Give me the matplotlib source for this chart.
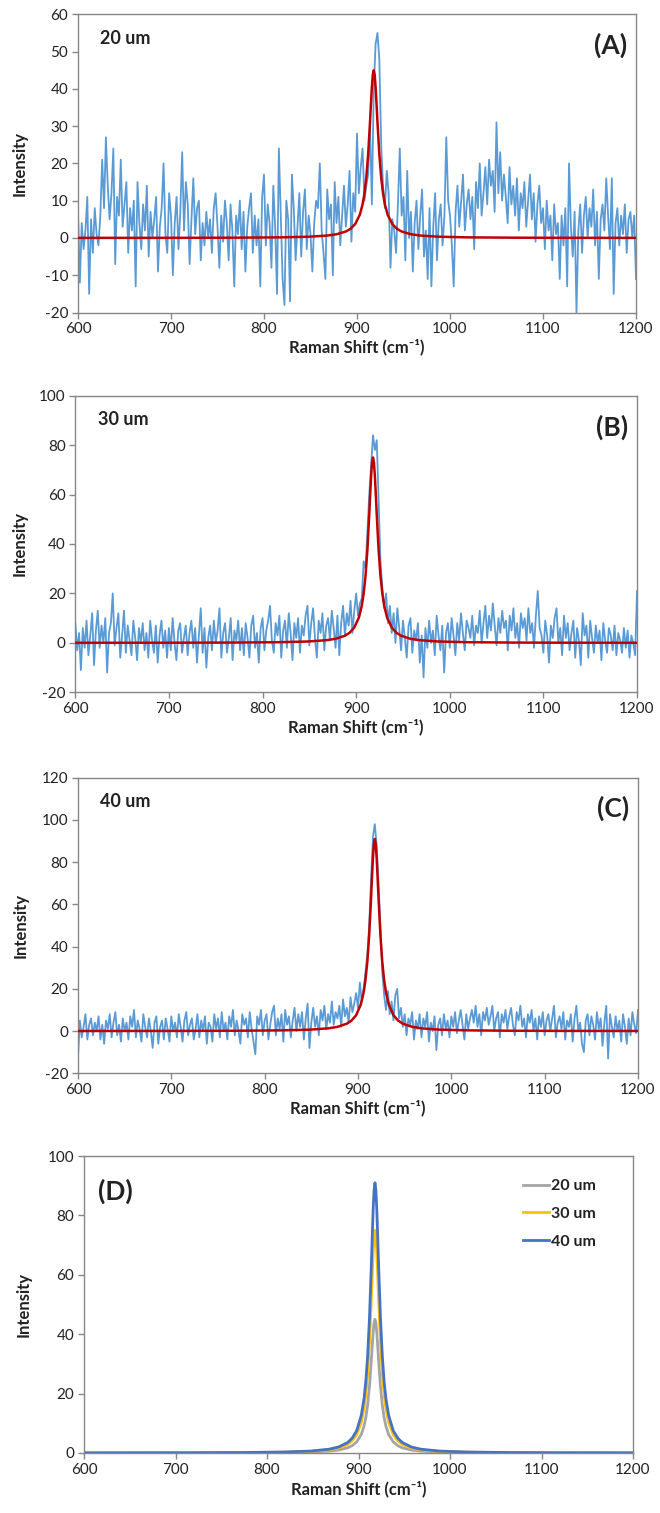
import matplotlib
matplotlib.use("Agg")
import matplotlib.pyplot as plt
import numpy as np

plt.rcParams['font.family'] = ['Lato', 'DejaVu Sans']
plt.rcParams['axes.unicode_minus'] = False

# ---------------- data ----------------
x_start, x_step = 600, 2
spec_20um = [7, -12, 4, -3, 2, 11, -15, 5, -4, 8,
             1, -2, 6, 21, 8, 27, 14, 5, 12, 24,
             -7, 11, 6, 21, 3, 9, 15, -4, 8, 2,
             10, -13, 15, 4, -3, 9, 2, 14, -5, 7,
             0, 5, 11, -9, 3, 8, 20, 1, -4, 12,
             6, -10, 4, 11, -3, 7, 23, 2, 15, 9,
             -7, 5, 16, 1, 8, 10, -6, 4, -2, 7,
             0, 5, -4, 8, 12, 3, -8, 6, -1, 10,
             4, -6, 9, 2, -13, 6, 1, 10, -3, 7,
             -9, 3, 8, 12, -4, 6, -2, 5, -13, 11,
             17, -2, 9, 4, -8, 14, 3, -15, 24, 6,
             -11, -18, 10, 5, -17, 17, 8, -6, 3, 12,
             -5, 7, 13, -3, 6, 1, -9, 4, 10, 8,
             20, 2, -4, -11, 13, 5, 9, -10, 15, 4,
             11, -2, 6, 14, 3, 9, 18, -1, 12, 7,
             28, 12, 19, 24, 10, 14, 17, 30, 9, 40,
             52, 55, 48, 25, 14, 8, 18, 12, -8, 5,
             2, -4, 9, 24, 6, 11, -6, 18, 0, 7,
             -9, 4, 10, -3, 6, 13, -5, 2, -11, 8,
             -13, 3, 12, -6, 5, 9, -2, 6, 27, 10,
             6, -2, -13, 7, 14, 3, 10, 17, 2, 9,
             13, 5, 11, -3, 15, 8, 20, 6, 12, 19,
             9, 21, 14, 18, 7, 31, 12, 23, 10, 17,
             11, 4, 19, 9, 14, 6, 16, 2, 12, 8,
             15, 3, 10, 17, 5, 12, -1, 9, 14, 4,
             8, -3, 10, 2, 6, -6, 9, 1, 4, -11,
             6, -2, 8, -13, 20, 3, -5, 7, -20, 2,
             9, -4, 6, 11, 0, 8, 3, 13, -2, 7,
             -11, 5, 9, 2, 16, 6, -3, 16, -15, 4,
             8, -2, 6, 1, 9, -4, 5, 7, 0, 6,
             -11]
spec_30um = [8, -3, 4, -11, 6, -2, 9, -5, 3, 12,
             -9, 5, 13, -2, 7, 0, 10, -12, 4, 8,
             20, -1, 6, 12, -6, 3, 13, -4, 7, 1,
             -5, 9, 2, -7, 6, 0, 8, -3, 4, -6,
             9, 1, -4, 7, -8, 3, 9, -2, 5, -6,
             6, -3, 10, 0, -7, 5, 8, -4, 2, 7,
             -5, 4, 9, -2, 6, -8, 3, 14, -4, 6,
             -10, 2, 7, -3, 9, 0, 5, 14, -6, 4,
             8, -4, 2, 10, -7, 5, 1, 9, -3, 6,
             -5, 8, 2, -6, 7, 11, -2, 4, -8, 6,
             10, -3, 5, 9, 15, 1, -4, 8, 3, 11,
             -6, 5, 9, -2, 12, 4, -7, 8, 2, 10,
             -4, 7, 3, 11, 15, -1, 8, 14, 2, -6,
             9, 4, 12, -3, 7, 10, 1, 13, 6, -2,
             11, -5, 8, 15, 3, 12, 7, 17, 4, 13,
             20, 11, 16, 18, 33, 30, 45, 60, 72, 84,
             78, 82, 58, 33, 22, 14, 20, 8, 15, 4,
             12, 0, 14, 6, -3, 9, 2, -6, 7, 10,
             -4, 5, 1, 8, -8, 3, -14, 6, -2, 9,
             0, 5, -5, 11, 3, -3, 7, -12, 4, 8,
             -2, 10, 3, -5, 8, 1, 12, 4, -3, 9,
             6, 2, 11, -1, 7, 4, 13, 0, 8, 15,
             2, 11, 5, 16, 7, -1, 10, 4, 13, 6,
             9, -3, 11, 5, 14, 2, 8, -2, 12, 6,
             10, 1, 14, 4, 8, -2, 11, 21, 6, 3,
             -4, 9, 3, -8, 7, 2, 10, 14, 0, 6,
             -5, 11, 2, 8, -3, 4, 9, -6, 6, 1,
             -9, 12, 3, 7, -6, 9, 2, -4, 7, 0,
             5, -7, 8, 1, -4, 6, 3, -3, 7, -5,
             4, 1, -4, 6, -2, 5, -6, 3, 0, -5,
             21]
spec_40um = [-12, 5, -3, 2, 8, -4, 3, 6, -2, 4,
             0, 7, -4, 3, -6, 5, 1, 8, -3, 4,
             9, -2, 3, -5, 6, 0, 4, -4, 7, 2,
             10, -3, 5, 1, -5, 8, 2, -3, 6, 0,
             -8, 4, 7, -6, 2, 5, -4, 6, 1, -5,
             7, 0, 4, -3, 8, 2, -5, 5, 9, -2,
             3, 6, -4, 1, 8, -3, 5, 0, 7, -6,
             4, 2, -5, 8, 1, 6, -3, 9, 0, 4,
             -4, 7, 2, 10, -2, 5, 0, -6, 8, 3,
             6, -3, 9, 1, -5, -11, 7, 3, 10, -2,
             5, 8, -4, 3, 9, 12, -2, 6, 1, 8,
             -5, 10, 3, 7, -3, 5, 11, 0, 8, 2,
             9, -4, 6, 13, -8, 4, 11, 2, 7, -2,
             10, 5, 12, 1, 8, 4, 14, 3, 9, 6,
             12, 2, 15, 7, 11, 4, 16, 9, 13, 18,
             11, 23, 14, 20, 28, 36, 50, 72, 92, 98,
             88, 70, 50, 28, 17, 10, 19, 8, 14, 5,
             17, 20, 6, 11, 2, 8, -2, 6, 3, 9,
             -4, 5, 1, 8, -3, 6, 2, 9, -5, 4,
             0, 7, -9, 3, 6, -2, 8, 1, 5, -3,
             7, 2, 9, -1, 5, 10, 3, -4, 8, 1,
             6, 10, 4, 12, 2, 8, -2, 9, 5, 11,
             3, 7, 12, 0, 6, 9, -3, 8, 4, 10,
             1, 7, 11, 3, -2, 9, 5, 12, 2, 6,
             -3, 8, 4, 10, 0, 6, -4, 7, 2, 9,
             -2, 5, 8, 0, 6, 12, -3, 4, 7, 1,
             9, -4, 5, 2, 8, -5, 6, 12, 0, 4,
             -6, -10, 5, 8, -2, 7, 3, -4, 9, 1,
             6, -7, 4, 12, -13, 8, 2, -3, 7, 0,
             5, -5, 8, 2, -6, 6, -2, 9, 3, -1,
             10]

fit_x = [600, 700, 768, 818, 848, 868, 878, 888, 893, 898, 903, 906, 908, 910, 912, 914,
         915, 916, 917, 918, 919, 920, 921, 922, 924, 926, 928, 930, 933, 938, 943, 948,
         958, 968, 988, 1018, 1068, 1118, 1200]
fit_20um = [0.016, 0.034, 0.072, 0.16, 0.33, 0.64, 0.99, 1.73, 2.45, 3.72, 6.2, 9.0, 11.9,
            16.2, 22.5, 31.1, 36.0, 40.5, 43.8, 45.0, 43.8, 40.5, 36.0, 31.1, 22.5, 16.2,
            11.9, 9.0, 6.2, 3.72, 2.45, 1.73, 0.99, 0.64, 0.33, 0.16, 0.072, 0.041, 0.02]
fit_30um = [0.027, 0.057, 0.12, 0.27, 0.55, 1.07, 1.65, 2.89, 4.09, 6.2, 10.3, 15.0, 19.9,
            27.0, 37.5, 51.9, 60.0, 67.5, 73.0, 75.0, 73.0, 67.5, 60.0, 51.9, 37.5, 27.0,
            19.9, 15.0, 10.3, 6.2, 4.09, 2.89, 1.65, 1.07, 0.55, 0.27, 0.12, 0.068, 0.034]
fit_40um = [0.033, 0.069, 0.15, 0.33, 0.66, 1.29, 2.0, 3.5, 4.96, 7.5, 12.6, 18.2, 24.1,
            32.8, 45.5, 63.0, 72.8, 81.9, 88.5, 91.0, 88.5, 81.9, 72.8, 63.0, 45.5, 32.8,
            24.1, 18.2, 12.6, 7.5, 4.96, 3.5, 2.0, 1.29, 0.66, 0.33, 0.15, 0.082, 0.041]

sample_labels = ["20 um", "30 um", "40 um"]
panel_tags = ["(A)", "(B)", "(C)", "(D)"]
x_ticks = [600, 700, 800, 900, 1000, 1100, 1200]

# ---------------- styling ----------------
W, H = 660, 1513
fig = plt.figure(figsize=(W / 100, H / 100), dpi=100)
fig.patch.set_facecolor("white")

noise_color = "#5B9BD5"
fit_color = "#C00000"
spine_color = "#878787"
text_color = "#222222"


def box(l, t, r, b):
    return [l / W, 1 - b / H, (r - l) / W, (b - t) / H]


def style(ax, yticks, ylim, xlab_pad=2):
    ax.set_xlim(600, 1200)
    ax.set_ylim(*ylim)
    ax.set_xticks(x_ticks)
    ax.set_yticks(yticks)
    for s in ax.spines.values():
        s.set_color(spine_color)
        s.set_linewidth(1.0)
    ax.tick_params(axis="both", direction="out", length=4, width=1.0,
                   color=spine_color, labelsize=11, labelcolor=text_color, pad=3)
    ax.set_xlabel("Raman Shift (cm\u207b\u00b9)", fontsize=12,
                  fontweight="bold", color=text_color, labelpad=xlab_pad)
    ax.set_ylabel("Intensity", fontsize=12, fontweight="bold", color=text_color)


boxes = [box(78, 14.3, 636, 312.5), box(75.3, 395.7, 637, 692.3),
         box(78, 777.7, 638, 1073.3), box(84, 1156, 633, 1453)]
specs = [spec_20um, spec_30um, spec_40um]
fits = [fit_20um, fit_30um, fit_40um]
ylims = [(-20, 60), (-20, 100), (-20, 120)]
yticks_list = [list(range(-20, 61, 10)), list(range(-20, 101, 20)), list(range(-20, 121, 20))]
ylab_x = [-0.09, -0.084, -0.089]

for i in range(3):
    ax = fig.add_axes(boxes[i])
    xs = np.arange(len(specs[i])) * x_step + x_start
    ax.plot(xs, specs[i], color=noise_color, lw=1.3, zorder=2)
    ax.plot(fit_x, fits[i], color=fit_color, lw=1.8, zorder=3)
    style(ax, yticks_list[i], ylims[i])
    ax.yaxis.set_label_coords(ylab_x[i], 0.5)
    ax.text(0.04, 0.92, sample_labels[i], transform=ax.transAxes, fontsize=13,
            fontweight="bold", color=text_color, ha="left", va="center")
    ax.text(0.984, 0.895, panel_tags[i], transform=ax.transAxes, fontsize=19,
            fontweight="bold", color=text_color, ha="right", va="center")

# Panel D
axd = fig.add_axes(boxes[3])
d_colors = ["#A5A5A5", "#FFC000", "#4472C4"]
for lab, f, c in zip(sample_labels, fits, d_colors):
    axd.plot(fit_x, f, color=c, lw=2.0, label=lab)
style(axd, list(range(0, 101, 20)), (0, 100), xlab_pad=3)
axd.yaxis.set_label_coords(-0.095, 0.5)
axd.text(0.025, 0.88, panel_tags[3], transform=axd.transAxes, fontsize=19,
         fontweight="bold", color=text_color, ha="left", va="center")
leg = axd.legend(loc="upper right", bbox_to_anchor=(0.95, 0.955), frameon=False,
                 prop={"weight": "bold", "size": 11.5}, handlelength=1.6,
                 handletextpad=0.15, labelspacing=0.85, borderaxespad=0.2)
for t in leg.get_texts():
    t.set_color(text_color)

fig.savefig("out.png", dpi=100, facecolor="white")
